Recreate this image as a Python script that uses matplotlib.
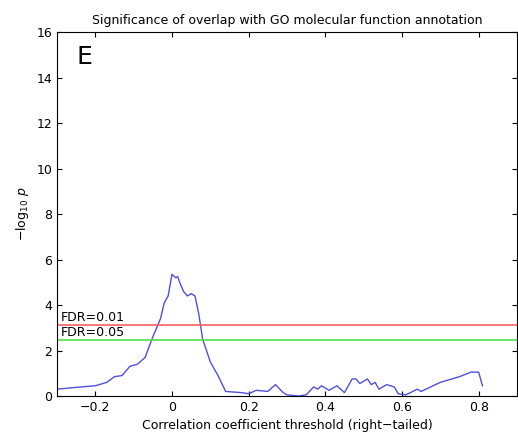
import matplotlib
matplotlib.use("Agg")
import matplotlib.pyplot as plt

x = [-0.3,-0.25,-0.2,-0.17,-0.15,-0.13,-0.11,-0.09,-0.07,-0.05,-0.03,-0.02,-0.01,0.0,0.01,0.015,0.02,0.03,0.04,0.05,0.06,0.07,0.08,0.09,0.1,0.12,0.14,0.18,0.2,0.22,0.25,0.27,0.29,0.3,0.33,0.35,0.37,0.38,0.39,0.41,0.43,0.45,0.47,0.48,0.49,0.51,0.52,0.53,0.54,0.56,0.58,0.59,0.61,0.64,0.65,0.7,0.75,0.78,0.8,0.81]
y = [0.3,0.38,0.45,0.6,0.85,0.9,1.3,1.4,1.7,2.6,3.4,4.1,4.4,5.35,5.2,5.25,5.0,4.6,4.4,4.5,4.4,3.6,2.5,2.0,1.5,0.9,0.2,0.15,0.1,0.25,0.2,0.5,0.15,0.05,0.0,0.05,0.4,0.3,0.45,0.25,0.45,0.15,0.75,0.75,0.55,0.75,0.5,0.6,0.3,0.5,0.4,0.1,0.05,0.3,0.2,0.6,0.85,1.05,1.05,0.45]
fdr_vals = [3.1, 2.45]
fdr_labels = ["FDR=0.01", "FDR=0.05"]
fdr_colors = ["#ff6060", "#50e050"]

fig = plt.figure(figsize=(5.18, 4.40), dpi=100)
ax = fig.add_axes([0.11, 0.10, 0.888, 0.827])
ax.plot(x, y, color="#5050e0", lw=1)
for v, lab, c in zip(fdr_vals, fdr_labels, fdr_colors):
    ax.axhline(v, color=c, lw=1.2)
    ax.text(-0.29, v + 0.05, lab, fontsize=9, va="bottom")
ax.set_xlim(-0.3, 0.9)
ax.set_ylim(0, 16)
ax.set_xticks([-0.2, 0, 0.2, 0.4, 0.6, 0.8])
ax.set_xticklabels(["−0.2", "0", "0.2", "0.4", "0.6", "0.8"])
ax.set_yticks(range(0, 17, 2))
ax.tick_params(labelsize=9, direction="in", top=True, right=True)
ax.text(-0.25, 14.6, "E", fontsize=18)
ax.set_title("Significance of overlap with GO molecular function annotation", fontsize=9)
ax.set_xlabel("Correlation coefficient threshold (right−tailed)", fontsize=9)
ax.set_ylabel(r"$-\log_{10}\,p$", fontsize=9)
fig.savefig("out.png")
